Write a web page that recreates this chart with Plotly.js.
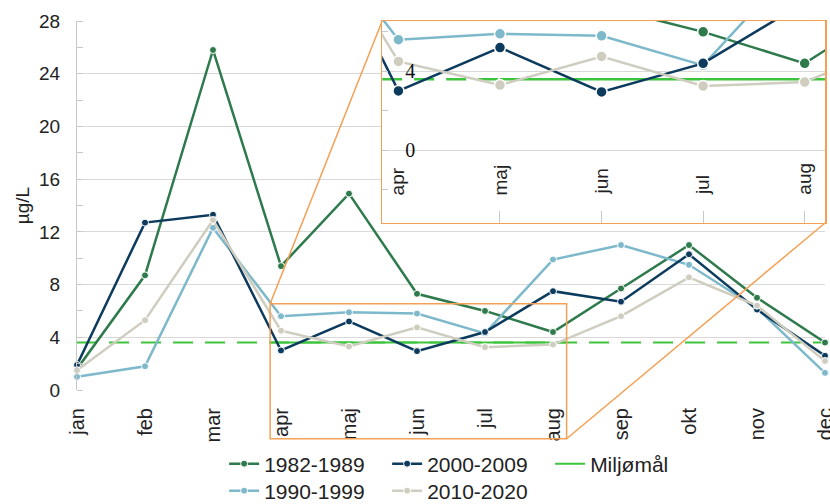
<!DOCTYPE html>
<html><head><meta charset="utf-8">
<script src="https://cdn.plot.ly/plotly-3.0.1.min.js"></script>
<style>html,body{margin:0;padding:0;background:#fff}</style>
</head><body><div id="chart" style="width:830px;height:504px"></div>
<script>
// ---- data ----
const months = ['jan','feb','mar','apr','maj','jun','jul','aug','sep','okt','nov','dec'];
const s1982 = [1.6, 8.7, 25.8, 9.4, 14.9, 7.3, 6.0, 4.4, 7.7, 11.0, 7.0, 3.6];
const s1990 = [1.0, 1.8, 12.3, 5.6, 5.9, 5.8, 4.3, 9.9, 11.0, 9.5, 6.2, 1.3];
const s2000 = [1.9, 12.7, 13.3, 3.0, 5.2, 2.95, 4.4, 7.5, 6.7, 10.3, 6.1, 2.6];
const s2010 = [1.5, 5.3, 12.9, 4.5, 3.3, 4.75, 3.25, 3.45, 5.6, 8.55, 6.4, 2.2];
const seriesNames = ['1982-1989', '1990-1999', '2000-2009', '2010-2020'];
const goalName = 'Miljømål';
const goalValue = 3.6;
const yTickVals = [0, 4, 8, 12, 16, 20, 24, 28];
const insetYTickVals = [0, 4];
const zoomX = [2.84, 7.2];     // zoom window (month index)
const zoomY = [-3.7, 6.55];    // zoom window (µg/L)

// ---- styles ----
const colors = ['#2e7a4c', '#7db8cb', '#0c3b5d', '#cfcdbf'];
const goalColor = '#3cc43c';
const orange = '#f5a055';
const grid = '#d9d9d9';
const legendOf = ['legend', 'legend2', 'legend', 'legend2'];
const rankOf = [1, 1, 2, 2];
const seriesData = [s1982, s1990, s2000, s2010];
const xIdx = months.map((m, i) => i);
const mainRange = [0, months.length - 1];
const mainYRange = [0, 28];
const insetDomX = [0.408, 1.0];
const insetDomY = [0.4526, 1.0];

const traces = [];
// goal lines (drawn first, below data)
traces.push({x: mainRange, y: [goalValue, goalValue], mode: 'lines', xaxis: 'x', yaxis: 'y',
  line: {color: goalColor, width: 2, dash: '20px,12px'}, showlegend: false, hoverinfo: 'skip'});
traces.push({x: zoomX, y: [goalValue, goalValue], mode: 'lines', xaxis: 'x', yaxis: 'y', name: goalName,
  legend: 'legend', legendrank: 3, line: {color: goalColor, width: 2}, showlegend: true});
traces.push({x: [zoomX[0], 4], y: [goalValue, goalValue], mode: 'lines', xaxis: 'x2', yaxis: 'y2',
  line: {color: goalColor, width: 2.5, dash: '20px,12px'}, showlegend: false});
traces.push({x: [4, zoomX[1]], y: [goalValue, goalValue], mode: 'lines', xaxis: 'x2', yaxis: 'y2',
  line: {color: goalColor, width: 2.5}, showlegend: false});

seriesData.forEach((vals, k) => {
  traces.push({x: xIdx, y: vals, name: seriesNames[k], mode: 'lines+markers', xaxis: 'x', yaxis: 'y',
    legend: legendOf[k], legendrank: rankOf[k], cliponaxis: false,
    line: {color: colors[k], width: 2.5},
    marker: {color: colors[k], size: 7, line: {color: '#fff', width: 1}}});
});
seriesData.forEach((vals, k) => {
  traces.push({x: xIdx, y: vals, mode: 'lines+markers', xaxis: 'x2', yaxis: 'y2', showlegend: false,
    line: {color: colors[k], width: 2.5},
    marker: {color: colors[k], size: 11, line: {color: '#fff', width: 1.5}}});
});

// paper coordinate helpers
const px = v => (v - mainRange[0]) / (mainRange[1] - mainRange[0]);
const py = v => (v - mainYRange[0]) / (mainYRange[1] - mainYRange[0]);

const shapes = [
  {type: 'rect', xref: 'paper', yref: 'paper', x0: px(zoomX[0]), x1: px(zoomX[1]), y0: py(zoomY[0]), y1: py(zoomY[1]),
   line: {color: orange, width: 1.5}, layer: 'above'},
  {type: 'line', xref: 'paper', yref: 'paper', x0: px(zoomX[0]), y0: py(zoomY[1]), x1: insetDomX[0], y1: insetDomY[1],
   line: {color: orange, width: 1.5}, layer: 'above'},
  {type: 'line', xref: 'paper', yref: 'paper', x0: px(zoomX[1]), y0: py(zoomY[0]), x1: insetDomX[1], y1: insetDomY[0],
   line: {color: orange, width: 1.5}, layer: 'above'}
];

const annotations = months.map((m, i) => ({i, m})).filter(o => o.i >= Math.ceil(zoomX[0]) && o.i <= Math.floor(zoomX[1]))
  .map(o => ({x: o.i, y: -2.38, xref: 'x2', yref: 'y2', text: o.m, textangle: -90, showarrow: false,
    xanchor: 'center', yanchor: 'bottom', font: {size: 19, color: '#222'}}));

const legendBase = {orientation: 'h', xanchor: 'left', yanchor: 'middle', x: 0.1967, entrywidth: 118,
  entrywidthmode: 'pixels', font: {size: 21, color: '#222'}, bgcolor: 'rgba(0,0,0,0)', traceorder: 'normal'};

const layout = {
  width: 830, height: 504,
  margin: {l: 77, r: 5, t: 21, b: 114, pad: 0, autoexpand: false},
  paper_bgcolor: '#fff', plot_bgcolor: '#fff',
  font: {family: 'Liberation Sans, Arial, sans-serif', size: 19, color: '#222'},
  showlegend: true,
  xaxis: {range: mainRange, tickvals: xIdx, ticktext: months, tickangle: -90, showgrid: false,
    zeroline: false, showline: false, ticks: '', ticklabelstandoff: 13, ticklabeloverflow: 'allow',
    automargin: false, domain: [0, 1], tickfont: {size: 20}},
  yaxis: {range: mainYRange, tickvals: yTickVals, gridcolor: grid, gridwidth: 1, showline: true,
    linecolor: '#c8c8c8', zeroline: false, ticks: '', ticklabelstandoff: 12, automargin: false,
    title: {text: 'µg/L', standoff: 4, font: {size: 19}},
    minor: {ticks: 'inside', dtick: 2, tick0: 0, ticklen: 6, tickcolor: '#c8c8c8', showgrid: false}},
  xaxis2: {domain: insetDomX, anchor: 'y2', range: zoomX, tickvals: xIdx, showticklabels: false,
    ticks: 'inside', ticklen: 12, tickcolor: '#c8c8c8', showgrid: false, zeroline: false,
    showline: true, mirror: true, linecolor: orange, linewidth: 1.5, automargin: false},
  yaxis2: {domain: insetDomY, anchor: 'x2', range: zoomY, tickvals: insetYTickVals,
    ticklabelposition: 'inside', ticklabelstandoff: 24, automargin: false,
    tickfont: {family: 'Liberation Serif, Times New Roman, serif', size: 20, color: '#111'},
    gridcolor: grid, showline: true, mirror: true, linecolor: orange, linewidth: 1.5,
    zeroline: false, ticks: '',
    minor: {ticks: 'inside', dtick: 2, ticklen: 6, tickcolor: '#c8c8c8', showgrid: false}},
  legend: Object.assign({}, legendBase, {y: -0.2005}),
  legend2: Object.assign({}, legendBase, {y: -0.2737}),
  shapes: shapes,
  annotations: annotations
};

Plotly.newPlot('chart', traces, layout, {displayModeBar: false, staticPlot: true});
</script></body></html>
